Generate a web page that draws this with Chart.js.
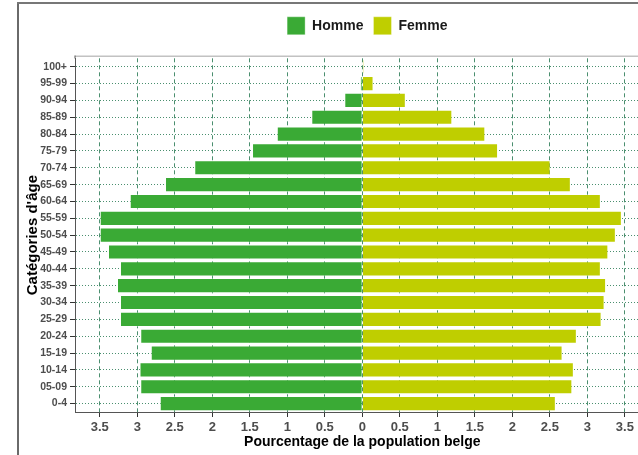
<!DOCTYPE html>
<html><head><meta charset="utf-8">
<script src="https://cdn.jsdelivr.net/npm/chart.js@4.4.0/dist/chart.umd.min.js"></script>
<style>
html,body{margin:0;padding:0;background:#fff;overflow:hidden;width:638px;height:455px;}
#wrap{position:relative;width:638px;height:455px;overflow:hidden;}
canvas{position:absolute;left:0;top:0;}
.fl{position:absolute;left:17px;top:2px;width:2px;height:453px;background:#6a6a6a;}
.ft{position:absolute;left:17px;top:2px;width:621px;height:2px;background:#777;}
</style></head>
<body><div id="wrap"><canvas id="c" width="660" height="455" style="width:660px;height:455px"></canvas><div class="fl"></div><div class="ft"></div></div>
<script>
const ageGroups = ["100+","95-99","90-94","85-89","80-84","75-79","70-74","65-69","60-64","55-59","50-54","45-49","40-44","35-39","30-34","25-29","20-24","15-19","10-14","05-09","0-4"];
const homme = [0.01,0.03,0.24,0.68,1.14,1.47,2.24,2.63,3.10,3.50,3.50,3.39,3.23,3.27,3.23,3.23,2.96,2.82,2.97,2.96,2.70];
const femme = [0.02,0.15,0.58,1.20,1.64,1.81,2.51,2.78,3.18,3.46,3.38,3.28,3.18,3.25,3.23,3.19,2.86,2.67,2.82,2.80,2.58];
const xTickValues = [-3.5,-3,-2.5,-2,-1.5,-1,-0.5,0,0.5,1,1.5,2,2.5,3,3.5];

const FONT = '"Liberation Sans", Arial, sans-serif';
const gridCol = 'rgba(30,115,75,0.8)';

const tweaks = {
  id: 'tweaks',
  beforeLayout(chart) {
    const lg = chart.legend;
    if (lg && !lg.__wrapped) {
      const orig = lg.fit;
      lg.fit = function(){ orig.call(this); this.height = 51.5; };
      lg.__wrapped = true;
    }
  },
  afterLayout(chart) {
    const lg = chart.legend;
    if (lg) { lg.left += 5; lg.right += 5; }
  },
  beforeDatasetsDraw(chart) {
    const {ctx, chartArea} = chart;
    ctx.save();
    ctx.fillStyle = '#c2c2c2';
    ctx.fillRect(chartArea.left, chartArea.top - 2.8, chart.width - chartArea.left, 1.5);
    ctx.fillStyle = '#555';
    ctx.fillRect(chartArea.left - 0.5, chartArea.top - 2.8, 1, 3);
    ctx.restore();
  }
};

new Chart(document.getElementById('c'), {
  type: 'bar',
  data: {
    labels: ageGroups,
    datasets: [
      { label: 'Homme', data: homme.map(v => -v), backgroundColor: '#3aaa35', borderColor: 'rgba(255,255,255,0.35)', borderWidth: 1, barPercentage: 0.9, categoryPercentage: 1 },
      { label: 'Femme', data: femme, backgroundColor: '#bfce00', borderColor: 'rgba(255,255,255,0.35)', borderWidth: 1, barPercentage: 0.9, categoryPercentage: 1 }
    ]
  },
  options: {
    indexAxis: 'y',
    responsive: false,
    animation: false,
    devicePixelRatio: 1,
    layout: { padding: { top: 6.8, left: 0, right: 10.4, bottom: 0 } },
    plugins: {
      legend: {
        position: 'top',
        fullSize: false,
        labels: { boxWidth: 18, boxHeight: 18, padding: 10, color: '#1a1a1a', font: { family: FONT, size: 14, weight: 'bold' } }
      },
      tooltip: { enabled: false }
    },
    scales: {
      x: {
        type: 'linear',
        stacked: true,
        min: -3.83, max: 3.83,
        afterBuildTicks: (scale) => { scale.ticks = xTickValues.map(v => ({ value: v })); },
        afterFit: (scale) => { scale.height = 43; },
        ticks: {
          color: '#4d4d4d', padding: 3, maxRotation: 0, autoSkip: false,
          font: { family: FONT, size: 13, weight: 'bold' },
          callback: (v) => String(Math.abs(v))
        },
        grid: { color: gridCol, lineWidth: 1, tickLength: 5, tickColor: '#333', tickWidth: 1 },
        border: { display: true, color: '#555', width: 1, dash: [4, 3] },
        title: { display: true, text: 'Pourcentage de la population belge', color: '#000', padding: { top: 0, bottom: 4.6 }, font: { family: FONT, size: 14, weight: 'bold' } }
      },
      y: {
        type: 'category',
        stacked: true,
        offset: true,
        afterFit: (scale) => { scale.width = 75; },
        ticks: { color: '#4d4d4d', padding: 3, autoSkip: false, font: { family: FONT, size: 10.5, weight: 'bold' } },
        grid: { offset: false, color: gridCol, lineWidth: 1, tickLength: 5, tickColor: '#333', tickWidth: 1 },
        border: { display: true, color: '#555', width: 1, dash: [1, 2] },
        title: { display: true, text: "Catégories d'âge", color: '#000', padding: { top: 24.2, bottom: 0 }, font: { family: FONT, size: 15, weight: 'bold' } }
      }
    }
  },
  plugins: [tweaks]
});
</script>
</body></html>
